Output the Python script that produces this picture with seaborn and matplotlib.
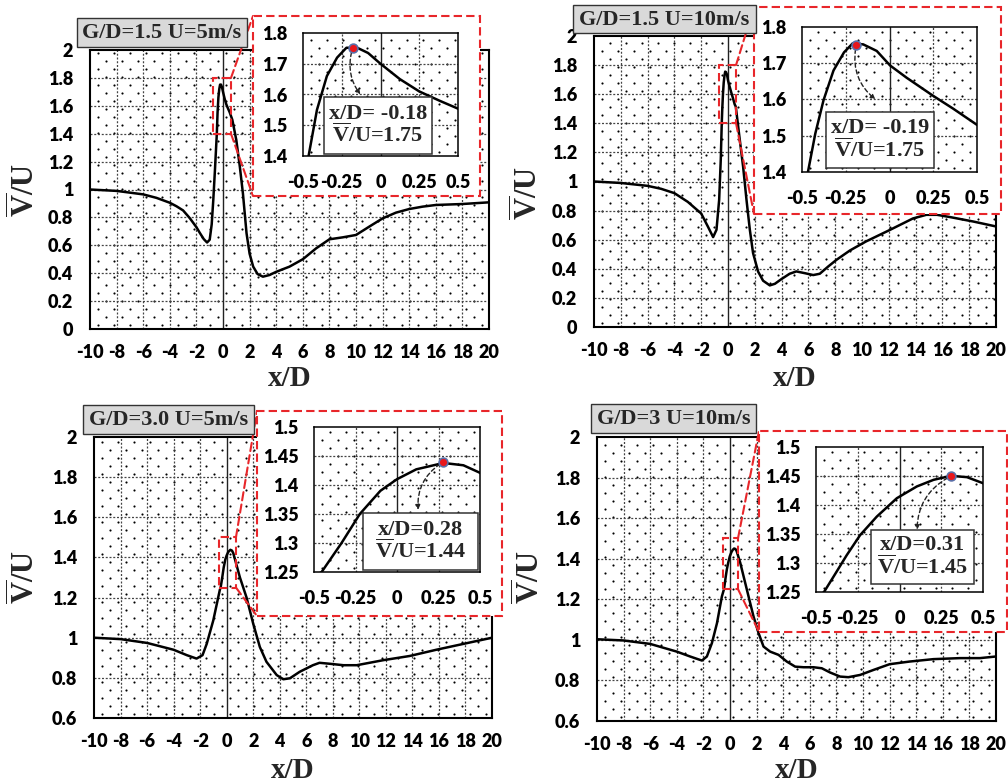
import numpy as np
import pandas as pd
import matplotlib
matplotlib.use("Agg")
import matplotlib.pyplot as plt
import seaborn as sns
from matplotlib.patches import Rectangle, ConnectionPatch

# ---------------- data ----------------
p1_x = [-10, -8, -6, -5, -4, -3.5, -3, -2.5, -2, -1.75, -1.45, -1.2, -1.0, -0.85, -0.73, -0.6, -0.53,
        -0.464, -0.41, -0.346, -0.28, -0.22, -0.15, -0.08, 0.0, 0.125, 0.25, 0.38, 0.5,
        0.7, 1.0, 1.27, 1.5, 1.77, 2.0, 2.27, 2.6, 3.0, 3.5, 4, 5, 6, 7, 8, 9, 10, 11, 12,
        13, 14, 15, 16, 18, 20]
p1_y = [1.0, 0.99, 0.965, 0.94, 0.905, 0.88, 0.85, 0.795, 0.73, 0.69, 0.645, 0.62, 0.64, 0.75, 0.925, 1.15, 1.28,
        1.40, 1.55, 1.66, 1.72, 1.752, 1.752, 1.735, 1.70, 1.65, 1.61, 1.58, 1.554,
        1.50, 1.355, 1.16, 0.97, 0.686, 0.54, 0.447, 0.394, 0.375, 0.387, 0.41, 0.447, 0.50, 0.578,
        0.643, 0.657, 0.674, 0.734, 0.793, 0.834, 0.86, 0.877, 0.889, 0.896, 0.908]

p2_x = [-10, -8, -6, -5, -4, -3, -2, -1.5, -1.11, -0.86, -0.66, -0.54,
        -0.466, -0.424, -0.377, -0.32, -0.26, -0.21, -0.15, -0.073, 0.003, 0.098, 0.25, 0.363, 0.5,
        0.58, 0.88, 1.13, 1.38, 1.63, 1.87, 2.25, 2.62, 3.12, 3.5, 4.0, 4.6, 5.1, 5.73, 6.36,
        6.85, 7.48, 8.1, 9.1, 10.3, 12.1, 13.8, 14.8, 15.6, 16.6, 18.3, 20]
p2_y = [1.0, 0.99, 0.97, 0.95, 0.92, 0.86, 0.78, 0.69, 0.618, 0.668, 0.874, 1.15,
        1.40, 1.506, 1.598, 1.68, 1.73, 1.755, 1.752, 1.734, 1.694, 1.66, 1.61, 1.575, 1.53,
        1.515, 1.286, 1.10, 0.874, 0.668, 0.508, 0.38, 0.318, 0.286, 0.297, 0.33, 0.366, 0.382, 0.37, 0.357,
        0.366, 0.416, 0.462, 0.526, 0.588, 0.668, 0.746, 0.771, 0.771, 0.755, 0.725, 0.691]

p3_x = [-10, -8, -6, -4, -3, -2.27, -1.82, -1.5, -1.01, -0.51,
        -0.454, -0.334, -0.224, -0.1, 0.0, 0.116, 0.28, 0.4, 0.5,
        1.0, 1.5, 2.0, 2.5, 3.0, 3.77, 4.27, 4.77, 5.5, 6.5, 7.0, 7.8, 8.8, 9.8, 11.8, 13.8,
        15.8, 17.9, 20]
p3_y = [1.0, 0.993, 0.974, 0.94, 0.913, 0.896, 0.913, 0.97, 1.086, 1.24,
        1.25, 1.30, 1.35, 1.39, 1.41, 1.427, 1.438, 1.434, 1.421,
        1.30, 1.20, 1.07, 0.954, 0.88, 0.814, 0.793, 0.798, 0.83, 0.863, 0.875, 0.87, 0.863, 0.863,
        0.888, 0.909, 0.94, 0.97, 1.0]

p4_x = [-10, -8, -6, -4, -3, -2.11, -1.74, -1.36, -0.98, -0.61,
        -0.452, -0.396, -0.316, -0.236, -0.136, -0.016, 0.104, 0.204, 0.308, 0.404, 0.5,
        0.77, 1.27, 1.77, 2.15, 2.52, 3.02, 3.65, 4.27, 4.9, 5.53, 6.28, 6.9, 7.53, 8.28, 8.9,
        9.78, 10.8, 12.0, 13.5, 15.3, 17.3, 18.8, 20]
p4_y = [1.003, 0.997, 0.98, 0.942, 0.918, 0.898, 0.918, 0.984, 1.082, 1.214,
        1.25, 1.276, 1.3135, 1.348, 1.38, 1.4117, 1.432, 1.4434, 1.4503, 1.448, 1.4376,
        1.38, 1.247, 1.115, 1.033, 0.967, 0.942, 0.926, 0.893, 0.868, 0.865, 0.865, 0.86, 0.839,
        0.819, 0.816, 0.827, 0.852, 0.88, 0.893, 0.905, 0.91, 0.91, 0.918]

titles = ["G/D=1.5 U=5m/s", "G/D=1.5 U=10m/s", "G/D=3.0 U=5m/s", "G/D=3 U=10m/s"]
peak_x = [-0.18, -0.19, 0.28, 0.31]
peak_y = [1.75, 1.75, 1.44, 1.45]
peak_xlabel = ["x/D= -0.18", "x/D= -0.19", "x/D=0.28", "x/D=0.31"]
peak_vlabel = ["1.75", "1.75", "1.44", "1.45"]

xticks_main = list(range(-10, 21, 2))
xticklabels_main = [str(v) for v in xticks_main]
yticks_top = [0, 0.2, 0.4, 0.6, 0.8, 1.0, 1.2, 1.4, 1.6, 1.8, 2.0]
yticklabels_top = ["0", "0.2", "0.4", "0.6", "0.8", "1", "1.2", "1.4", "1.6", "1.8", "2"]
yticks_bot = [0.6, 0.8, 1.0, 1.2, 1.4, 1.6, 1.8, 2.0]
yticklabels_bot = ["0.6", "0.8", "1", "1.2", "1.4", "1.6", "1.8", "2"]
xticks_in = [-0.5, -0.25, 0, 0.25, 0.5]
xticklabels_in = ["-0.5", "-0.25", "0", "0.25", "0.5"]
yticks_in_top = [1.4, 1.5, 1.6, 1.7, 1.8]
yticklabels_in_top = ["1.4", "1.5", "1.6", "1.7", "1.8"]
yticks_in_bot = [1.25, 1.3, 1.35, 1.4, 1.45, 1.5]
yticklabels_in_bot = ["1.25", "1.3", "1.35", "1.4", "1.45", "1.5"]
zoom_x = [(-0.75, 0.6), (-0.67, 0.6), (-0.58, 0.7), (-0.53, 0.6)]
zoom_y = [(1.4, 1.8), (1.4, 1.8), (1.25, 1.5), (1.25, 1.5)]

series = [(p1_x, p1_y), (p2_x, p2_y), (p3_x, p3_y), (p4_x, p4_y)]

# ---------------- layout (pixels) ----------------
W, H = 1008, 783
layout = [
    dict(main=(90, 50, 489, 329), box=(253, 16, 480, 196), inset=(303, 33, 458, 156),
         title=(77, 18, 247, 47), note=(324, 97, 432, 154), arrow_end=(-0.13, 1.60),
         rad=0.25, ylab=(25, 190), xlab=(290, 378)),
    dict(main=(594, 36, 996, 327), box=(754, 7, 1001, 214), inset=(802, 27, 977, 172),
         title=(573, 5, 756, 33), note=(826, 112, 934, 168), arrow_end=(-0.08, 1.60),
         rad=0.3, ylab=(528, 193), xlab=(795, 378)),
    dict(main=(94, 437, 492, 718), box=(257, 411, 502, 616), inset=(314, 427, 480, 572),
         title=(83, 405, 254, 434), note=(363, 513, 478, 570), arrow_end=(0.127, 1.357),
         rad=0.3, ylab=(25, 577), xlab=(293, 770)),
    dict(main=(597, 437, 996, 721), box=(759, 431, 1007, 632), inset=(816, 447, 983, 592),
         title=(591, 404, 756, 433), note=(871, 530, 974, 584), arrow_end=(0.105, 1.357),
         rad=0.3, ylab=(530, 577), xlab=(797, 770)),
]


def frac_rect(l, t, r, b):
    return [l / W, 1 - b / H, (r - l) / W, (b - t) / H]


sns.set_theme(style="white")
plt.rcParams['font.family'] = ['Lato', 'DejaVu Sans']
plt.rcParams['font.weight'] = 'bold'
plt.rcParams['axes.unicode_minus'] = False
plt.rcParams['mathtext.fontset'] = 'custom'
plt.rcParams['mathtext.rm'] = 'Liberation Serif:bold'
plt.rcParams['mathtext.bf'] = 'Liberation Serif:bold'
plt.rcParams['mathtext.it'] = 'Liberation Serif:bold'

fig = plt.figure(figsize=(W / 100, H / 100), dpi=100)
fig.patch.set_facecolor('white')

SERIF = ['Liberation Serif', 'DejaVu Serif']
GRID = dict(color='#444444', lw=0.9, ls=(0, (1.6, 1.4)))
TICKSIZE = 13


def add_dots(ax, rect_px, dx=16.0, dy=8.0):
    l, t, r, b = rect_px
    wpx, hpx = r - l, b - t
    xs_all, ys_all = [], []
    for i, y in enumerate(np.arange(dy / 2, hpx, dy)):
        off = 8.0 if i % 2 == 0 else 8.0 + dx / 2
        xs = np.arange(off, wpx - 1, dx)
        xs_all.extend(xs / wpx)
        ys_all.extend([y / hpx] * len(xs))
    ax.scatter(xs_all, ys_all, s=2.4, c='black', linewidths=0,
               transform=ax.transAxes, zorder=1)


def style_axes(ax, lw=1.5):
    for sp in ax.spines.values():
        sp.set_visible(True)
        sp.set_color('black')
        sp.set_linewidth(lw)
    ax.set_facecolor('white')


for k in range(4):
    L = layout[k]
    xs, ys = series[k]
    df = pd.DataFrame({'x': xs, 'y': ys})
    top = k < 2

    # ---- main axes ----
    ax = fig.add_axes(frac_rect(*L['main']), zorder=0)
    style_axes(ax)
    add_dots(ax, L['main'])
    for xv in xticks_main[1:-1]:
        if xv != 0:
            ax.axvline(xv, zorder=2, **GRID)
    yt = yticks_top if top else yticks_bot
    ytl = yticklabels_top if top else yticklabels_bot
    for yv in yt[1:-1]:
        ax.axhline(yv, zorder=2, **GRID)
    ax.axvline(0, color='#222222', lw=1.0, zorder=2)
    sns.lineplot(data=df, x='x', y='y', ax=ax, color='black', lw=1.8, sort=False,
                 estimator=None, zorder=4, solid_joinstyle='round')
    ax.set_xlim(-10, 20)
    ax.set_ylim(yt[0], yt[-1])
    ax.set_xticks(xticks_main)
    ax.set_xticklabels(xticklabels_main)
    ax.set_yticks(yt)
    ax.set_yticklabels(ytl)
    ax.tick_params(axis='both', length=0, labelsize=TICKSIZE, pad=11)
    ax.tick_params(axis='y', pad=12)
    for lab in ax.get_xticklabels() + ax.get_yticklabels():
        lab.set_fontweight('heavy')
        lab.set_color('black')
    ax.set_xlabel('')
    ax.set_ylabel('')

    # zoom rectangle on main
    zx0, zx1 = zoom_x[k]
    zy0, zy1 = zoom_y[k]
    ax.add_patch(Rectangle((zx0, zy0), zx1 - zx0, zy1 - zy0, fill=False,
                           edgecolor='#e8262a', lw=1.5, ls=(0, (4, 2)), zorder=5))

    # ---- red box (figure level) ----
    bl, bt, br, bb = L['box']
    fr = frac_rect(bl, bt, br, bb)
    fig.patches.append(Rectangle((fr[0], fr[1]), fr[2], fr[3], transform=fig.transFigure,
                                 facecolor='white', edgecolor='#e8262a', lw=1.5,
                                 ls=(0, (4, 2)), zorder=3))
    for (cx, cy), (fxp, fyp) in [((zx1, zy1), (bl, bt)), ((zx1, zy0), (bl, bb))]:
        con = ConnectionPatch(xyA=(cx, cy), coordsA=ax.transData,
                              xyB=(fxp / W, 1 - fyp / H), coordsB=fig.transFigure,
                              color='#e8262a', lw=1.5, ls=(0, (4, 2)), zorder=3)
        fig.add_artist(con)

    # ---- inset axes ----
    ai = fig.add_axes(frac_rect(*L['inset']), zorder=5)
    style_axes(ai, lw=1.1)
    add_dots(ai, L['inset'])
    yti = yticks_in_top if top else yticks_in_bot
    ytli = yticklabels_in_top if top else yticklabels_in_bot
    for xv in [-0.25, 0.25]:
        ai.axvline(xv, zorder=2, **GRID)
    for yv in yti[1:-1]:
        ai.axhline(yv, zorder=2, **GRID)
    ai.axvline(0, color='#222222', lw=1.0, zorder=2)
    sns.lineplot(data=df, x='x', y='y', ax=ai, color='black', lw=1.8, sort=False,
                 estimator=None, zorder=4, solid_joinstyle='round')
    ai.set_xlim(-0.5, 0.5)
    ai.set_ylim(yti[0], yti[-1])
    ai.set_xticks(xticks_in)
    ai.set_xticklabels(xticklabels_in)
    ai.set_yticks(yti)
    ai.set_yticklabels(ytli)
    ai.tick_params(axis='both', length=0, labelsize=TICKSIZE)
    ai.tick_params(axis='x', pad=13)
    ai.tick_params(axis='y', pad=11)
    for lab in ai.get_xticklabels() + ai.get_yticklabels():
        lab.set_fontweight('heavy')
        lab.set_color('black')
    ai.set_xlabel('')
    ai.set_ylabel('')

    ai.scatter([peak_x[k]], [peak_y[k]], s=40, c='#e8161b', edgecolors='#5a6fa8',
               linewidths=1.2, zorder=8, clip_on=False)
    ai.annotate('', xy=L['arrow_end'], xytext=(peak_x[k], peak_y[k]),
                arrowprops=dict(arrowstyle='-|>', color='#222222', lw=1.0, ls=(0, (3, 2)),
                                connectionstyle=f"arc3,rad={L['rad']}",
                                mutation_scale=7, shrinkA=3, shrinkB=0),
                zorder=7)

    # annotation box
    nl, nt, nr, nb = L['note']
    nf = frac_rect(nl, nt, nr, nb)
    fig.patches.append(Rectangle((nf[0], nf[1]), nf[2], nf[3], transform=fig.transFigure,
                                 facecolor='white', edgecolor='#333333', lw=1.1, zorder=6))
    fig.text((nl + nr) / 2 / W, 1 - (nt + nb) / 2 / H,
             peak_xlabel[k] + "\n" + r"$\mathbf{\overline{V}}$" + "/U=" + peak_vlabel[k],
             ha='center', va='center', fontsize=16, fontweight='bold', family=SERIF,
             linespacing=1.0, zorder=7)

    # title box
    tl, tt, tr, tb = L['title']
    tf = frac_rect(tl, tt, tr, tb)
    fig.patches.append(Rectangle((tf[0], tf[1]), tf[2], tf[3], transform=fig.transFigure,
                                 facecolor='#d9d9d9', edgecolor='#333333', lw=1.0, zorder=6))
    fig.text((tl + tr) / 2 / W, 1 - (tt + tb) / 2 / H - 0.001, titles[k],
             ha='center', va='center', fontsize=16, fontweight='bold', family=SERIF, zorder=7)

    # axis labels
    yx, yy = L['ylab']
    fig.text(yx / W, 1 - yy / H, r"$\mathbf{\overline{V}}$/U", rotation=90,
             ha='center', va='center', fontsize=22, fontweight='bold', family=SERIF)
    xx, xy = L['xlab']
    fig.text(xx / W, 1 - xy / H, "x/D", ha='center', va='center', fontsize=21,
             fontweight='bold', family=SERIF)

fig.savefig("out.png", dpi=100, facecolor='white')
